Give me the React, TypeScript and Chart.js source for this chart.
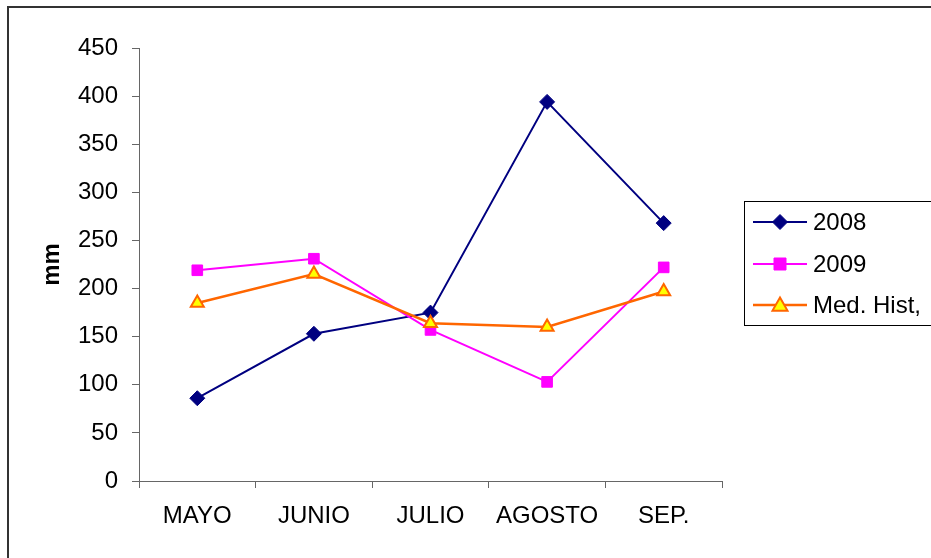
import React, { useEffect, useRef } from "react";
import { Chart, registerables } from "chart.js";

Chart.register(...registerables);

const categories = ["MAYO", "JUNIO", "JULIO", "AGOSTO", "SEP."];
const series2008 = [86, 153, 175, 394, 268];
const series2009 = [219, 231, 157, 103, 222];
const seriesMed = [185, 215, 164, 160, 197];
const seriesNames = ["2008", "2009", "Med. Hist,"];
const yTicks = [0, 50, 100, 150, 200, 250, 300, 350, 400, 450];

const FONT = "'Liberation Sans', Arial, sans-serif";
const FS = 24;

const frameAndLegend = {
  id: "frameAndLegend",
  afterDraw(chart: any) {
    const ctx = chart.ctx as CanvasRenderingContext2D;
    ctx.save();
    ctx.strokeStyle = "#333333";
    ctx.lineWidth = 2;
    ctx.strokeRect(8, 7, 1000, 600);
    ctx.strokeStyle = "#000000";
    ctx.lineWidth = 1;
    ctx.strokeRect(744.5, 201.5, 300, 124);
    const rows = [222, 264, 305];
    chart.data.datasets.forEach((ds: any, i: number) => {
      const y = rows[i];
      ctx.strokeStyle = ds.borderColor;
      ctx.lineWidth = ds.borderWidth;
      ctx.beginPath();
      ctx.moveTo(753, y);
      ctx.lineTo(807, y);
      ctx.stroke();
      ctx.fillStyle = ds.pointBackgroundColor;
      ctx.strokeStyle = ds.pointBorderColor;
      ctx.lineWidth = ds.pointBorderWidth;
      const cx = 780;
      ctx.beginPath();
      if (ds.pointStyle === "rectRot") {
        const r = 7.5;
        ctx.moveTo(cx, y - r);
        ctx.lineTo(cx + r, y);
        ctx.lineTo(cx, y + r);
        ctx.lineTo(cx - r, y);
        ctx.closePath();
      } else if (ds.pointStyle === "rect") {
        ctx.rect(cx - 6, y - 6, 12, 12);
      } else {
        const r = 7.5;
        ctx.moveTo(cx, y - r);
        ctx.lineTo(cx + r, y + r * 0.75);
        ctx.lineTo(cx - r, y + r * 0.75);
        ctx.closePath();
      }
      ctx.fill();
      if (ds.pointBorderWidth > 0) ctx.stroke();
      ctx.fillStyle = "#000000";
      ctx.font = `${FS}px ${FONT}`;
      ctx.textBaseline = "middle";
      ctx.textAlign = "left";
      ctx.fillText(seriesNames[i], 813, y + 1);
    });
    ctx.restore();
  },
};

export default function App() {
  const ref = useRef<HTMLCanvasElement>(null);
  useEffect(() => {
    if (!ref.current) return;
    const chart = new Chart(ref.current, {
      type: "line",
      data: {
        labels: categories,
        datasets: [
          {
            label: seriesNames[0],
            data: series2008,
            borderColor: "#000080",
            borderWidth: 2,
            pointStyle: "rectRot",
            pointRadius: 7.5,
            pointBackgroundColor: "#000080",
            pointBorderColor: "#000080",
            pointBorderWidth: 1,
            order: 2,
          },
          {
            label: seriesNames[1],
            data: series2009,
            borderColor: "#FF00FF",
            borderWidth: 2,
            pointStyle: "rect",
            pointRadius: 7.5,
            pointBackgroundColor: "#FF00FF",
            pointBorderColor: "#FF00FF",
            pointBorderWidth: 1,
            order: 1,
          },
          {
            label: seriesNames[2],
            data: seriesMed,
            borderColor: "#FF6600",
            borderWidth: 2.5,
            pointStyle: "triangle",
            pointRadius: 7.5,
            pointBackgroundColor: "#FFFF00",
            pointBorderColor: "#FF6600",
            pointBorderWidth: 2,
            order: 0,
          },
        ],
      },
      options: {
        animation: false,
        responsive: false,
        maintainAspectRatio: false,
        layout: { padding: { left: 0, top: 48, right: 209, bottom: 0 } },
        plugins: { legend: { display: false }, tooltip: { enabled: false } },
        scales: {
          x: {
            offset: true,
            grid: {
              offset: true,
              drawOnChartArea: false,
              drawTicks: true,
              tickLength: 7,
              color: "#666666",
            },
            border: { color: "#666666", width: 1 },
            ticks: {
              color: "#000000",
              font: { family: FONT, size: FS },
              padding: 14,
              maxRotation: 0,
              autoSkip: false,
            },
            afterFit: (s: any) => {
              s.height = 77;
            },
          },
          y: {
            min: 0,
            max: 450,
            afterBuildTicks: (s: any) => {
              s.ticks = yTicks.map((v) => ({ value: v }));
            },
            grid: {
              drawOnChartArea: false,
              drawTicks: true,
              tickLength: 7,
              color: "#666666",
            },
            border: { color: "#666666", width: 1 },
            ticks: {
              color: "#000000",
              font: { family: FONT, size: FS },
              padding: 14,
            },
            title: {
              display: true,
              text: "mm",
              color: "#000000",
              font: { family: FONT, size: FS, weight: "bold" },
              padding: { top: 38, bottom: 0 },
            },
            afterFit: (s: any) => {
              s.width = 139;
            },
          },
        },
      },
      plugins: [frameAndLegend],
    });
    return () => chart.destroy();
  }, []);
  return (
    <div style={{ position: "fixed", left: 0, top: 0, width: 931, height: 558, background: "#fff" }}>
      <canvas ref={ref} width={931} height={558} style={{ width: 931, height: 558, display: "block" }} />
    </div>
  );
}
